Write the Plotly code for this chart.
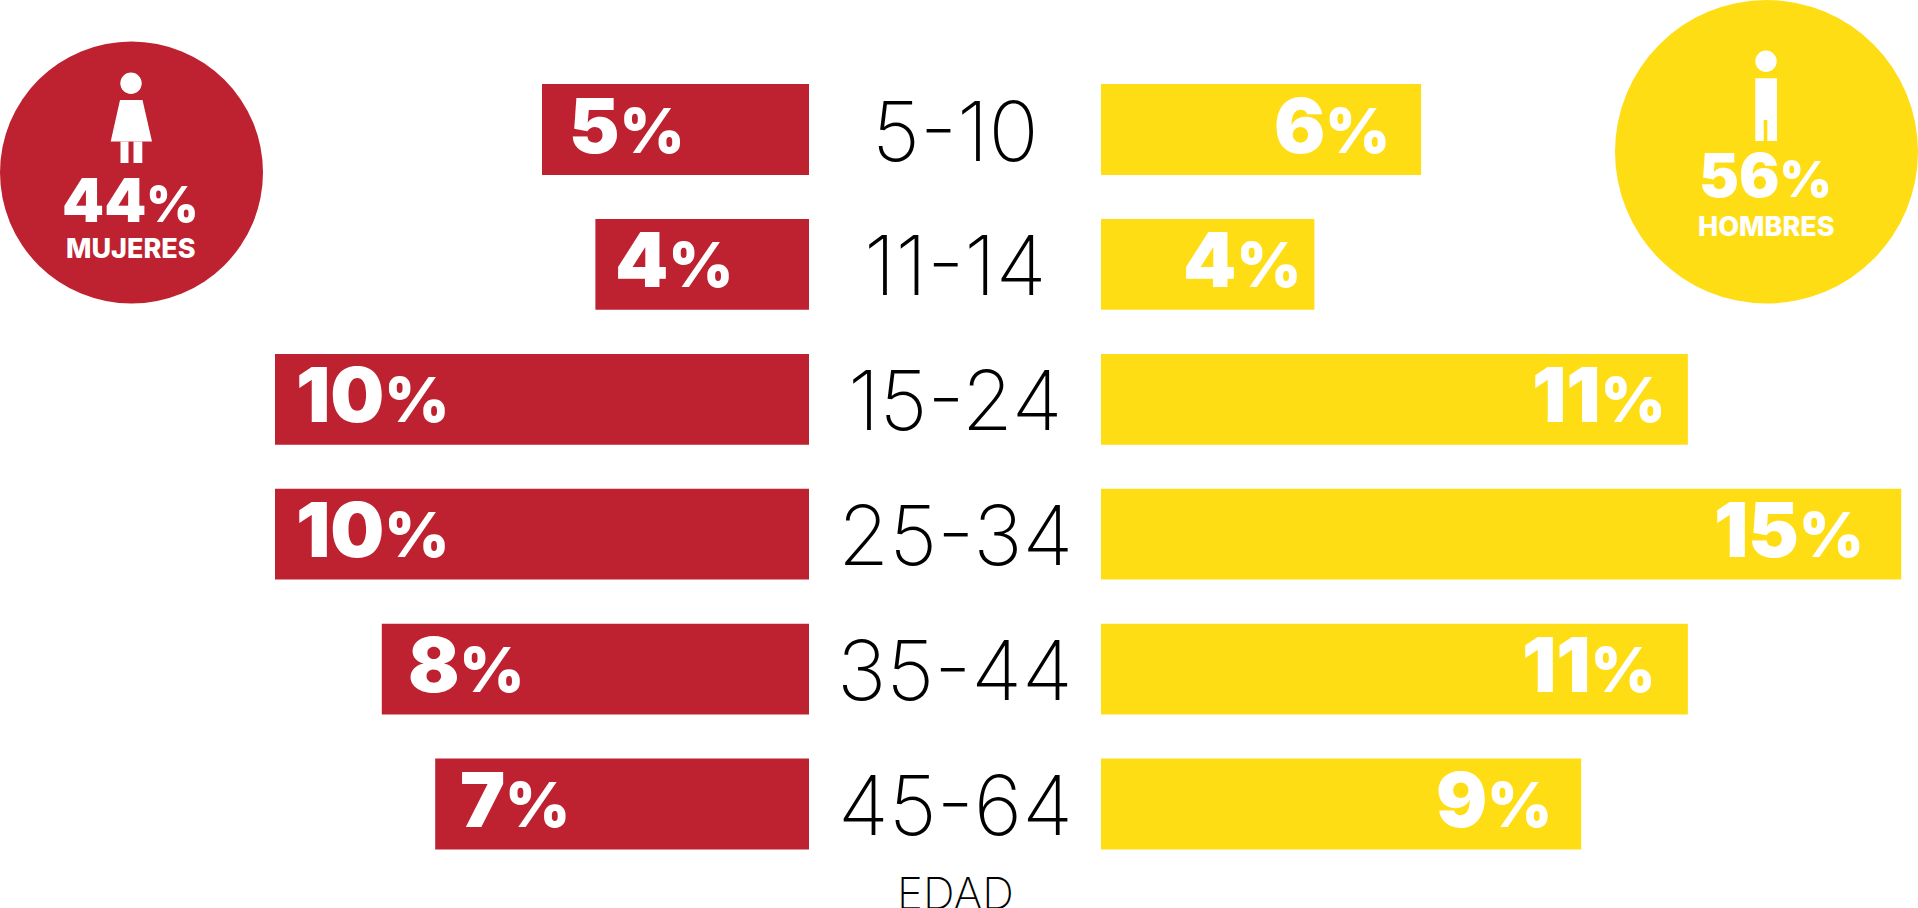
import plotly.graph_objects as go
from plotly.subplots import make_subplots

W, H = 1918, 908
categories = ["5-10", "11-14", "15-24", "25-34", "35-44", "45-64"]
mujeres = [5, 4, 10, 10, 8, 7]
hombres = [6, 4, 11, 15, 11, 9]
total_mujeres = "44"
total_hombres = "56"
label_mujeres = "MUJERES"
label_hombres = "HOMBRES"
axis_label = "EDAD"

RED = "#BE2130"
YEL = "#FFDD15"
LIGHT = "Inter"
HEAVY = "Inter"
shift_m = [25, 18, 19, 19, 24, 23]
shift_h = [-29, -11, -21, -35, -31, -27]

def px(x):
    return x / W

def py(y):
    return 1 - y / H

fig = make_subplots(rows=1, cols=2, shared_yaxes=True, horizontal_spacing=0)
fig.add_trace(go.Bar(y=categories, x=mujeres, orientation="h", marker_color=RED, marker_line_width=0), 1, 1)
fig.add_trace(go.Bar(y=categories, x=hombres, orientation="h", marker_color=YEL, marker_line_width=0), 1, 2)

UNIT = 53.4
fig.update_xaxes(visible=False)
fig.update_layout(
    xaxis=dict(domain=[0, px(809)], range=[809 / UNIT, 0], visible=False),
    xaxis2=dict(domain=[px(1101), 1], range=[0, 817 / 53.35], visible=False),
    yaxis=dict(domain=[0, 1], range=[5.771, -0.960], visible=False, type="category",
               categoryorder="array", categoryarray=categories),
    yaxis2=dict(domain=[0, 1], range=[5.771, -0.960], visible=False, matches="y"),
    bargap=0.327,
    showlegend=False,
    width=W, height=H,
    margin=dict(l=0, r=0, t=0, b=0, pad=0),
    paper_bgcolor="white", plot_bgcolor="rgba(0,0,0,0)",
)

def circle(x0, y0, x1, y1, color):
    fig.add_shape(type="circle", xref="paper", yref="paper", x0=px(x0), x1=px(x1),
                  y0=py(y1), y1=py(y0), fillcolor=color, line_width=0, layer="below")

def rect(x0, y0, x1, y1, color="white"):
    fig.add_shape(type="rect", xref="paper", yref="paper", x0=px(x0), x1=px(x1),
                  y0=py(y1), y1=py(y0), fillcolor=color, line_width=0)

def poly(points, color="white"):
    d = "M " + " L ".join(f"{px(x):.5f},{py(y):.5f}" for x, y in points) + " Z"
    fig.add_shape(type="path", xref="paper", yref="paper", path=d, fillcolor=color, line_width=0)

circle(0, 41.5, 263, 303.5, RED)
circle(1615, 0, 1918, 303.5, YEL)
# woman
circle(120.3, 72.5, 141.7, 94, "white")
poly([(120, 100), (142.5, 100), (152, 141.5), (110.7, 141.5)])
rect(120.5, 141.5, 128.5, 163)
rect(133.5, 141.5, 142.3, 163)
# man
circle(1755.3, 50.5, 1776.7, 72, "white")
rect(1755.3, 78.3, 1777, 141)
rect(1763.7, 120, 1767.3, 141, YEL)

def note(text, x, y, size, family, weight, color="white", xref="paper", yref="paper", anchor="center",
         xshift=0, yshift=0):
    fig.add_annotation(text=text, x=x, y=y, xref=xref, yref=yref, xanchor=anchor, yanchor="middle",
                       showarrow=False, xshift=xshift, yshift=yshift,
                       font=dict(size=size, family=family, weight=weight, color=color))

def pct(value, size):
    return f"{value}<span style='font-size:{size}px'>%</span>"

for c, m, s in zip(categories, mujeres, shift_m):
    note(pct(m, 62), m, c, 76, HEAVY, 900, xref="x", yref="y", anchor="left", xshift=s, yshift=5)
for c, h, s in zip(categories, hombres, shift_h):
    note(pct(h, 62), h, c, 76, HEAVY, 900, xref="x2", yref="y", anchor="right", xshift=s, yshift=5)
for c in categories:
    note(c, px(955), c, 83, LIGHT, 200, color="black", yref="y", yshift=-1)

note(axis_label, px(955), py(893), 44, LIGHT, 200, color="black")
note(pct(total_mujeres, 50), px(130), py(200), 60, HEAVY, 900)
note(label_mujeres, px(131), py(248), 27, HEAVY, 800)
note(pct(total_hombres, 50), px(1765), py(175), 60, HEAVY, 900)
note(label_hombres, px(1766), py(226), 27, HEAVY, 800)

fig.write_html("out.html", post_script="document.body.style.margin='0';", config={"displayModeBar": False})
